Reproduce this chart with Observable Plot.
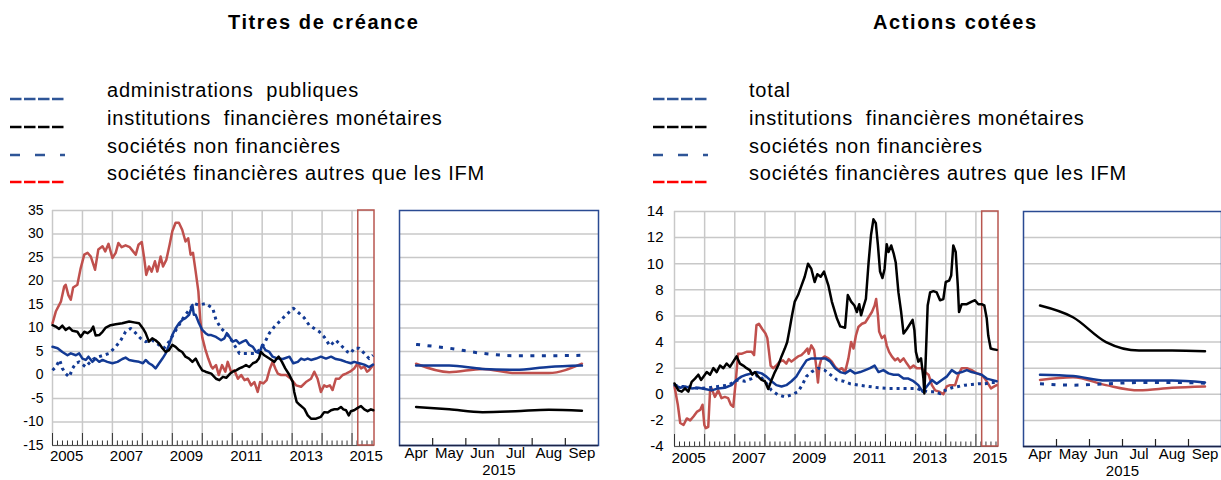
<!DOCTYPE html>
<html><head><meta charset="utf-8">
<script src="https://cdn.jsdelivr.net/npm/d3@7"></script>
<script src="https://cdn.jsdelivr.net/npm/@observablehq/plot@0.6"></script>
<style>
html,body{margin:0;padding:0;background:#fff;}
body{font-family:"Liberation Sans",Arial,sans-serif;color:#000;}
#root{position:relative;width:1221px;height:480px;overflow:hidden;}
.abs{position:absolute;}
.title{font-weight:bold;font-size:20px;line-height:20px;letter-spacing:1.6px;white-space:pre;}
.legtext{font-size:20px;line-height:20px;letter-spacing:0.8px;white-space:pre;}
</style></head>
<body><div id="root"></div>
<script>
// ---------- DATA ----------
const titleDebt = "Titres de créance";
const titleEquity = "Actions cotées";
const legendDebt = ["administrations  publiques", "institutions  financières monétaires", "sociétés non financières", "sociétés financières autres que les IFM"];
const legendEquity = ["total", "institutions  financières monétaires", "sociétés non financières", "sociétés financières autres que les IFM"];

const debtYTicks = [-15, -10, -5, 0, 5, 10, 15, 20, 25, 30, 35];
const equityYTicks = [-4, -2, 0, 2, 4, 6, 8, 10, 12, 14];
const yearLabels = [2005, 2007, 2009, 2011, 2013, 2015];
const zoomYear = 2015;
const zoomMonths = [4, 5, 6, 7, 8, 9];
const zoomMonthLabels = ["Apr", "May", "Jun", "Jul", "Aug", "Sep"];

// Titres de créance — [fractional year, %]
const debtAdmin = [[2005.00,6.0],[2005.17,5.7],[2005.33,4.9],[2005.50,4.2],[2005.61,4.6],[2005.78,4.2],[2005.89,4.6],[2006.00,3.5],[2006.11,3.2],[2006.20,3.9],[2006.33,2.8],[2006.44,3.5],[2006.56,2.8],[2006.67,3.2],[2006.83,2.8],[2007.00,2.5],[2007.17,2.8],[2007.33,3.4],[2007.44,3.7],[2007.56,3.2],[2007.72,3.0],[2007.89,2.8],[2008.02,2.5],[2008.11,3.2],[2008.22,2.5],[2008.33,2.1],[2008.44,1.4],[2008.56,2.5],[2008.67,3.5],[2008.78,4.6],[2008.89,6.4],[2009.00,8.5],[2009.11,9.9],[2009.22,11.0],[2009.33,11.7],[2009.44,12.1],[2009.56,12.8],[2009.67,14.9],[2009.72,12.8],[2009.78,12.8],[2009.89,11.0],[2010.00,9.6],[2010.11,8.9],[2010.20,8.5],[2010.30,8.5],[2010.46,8.1],[2010.63,7.4],[2010.74,7.8],[2010.82,8.9],[2010.91,8.1],[2011.02,7.1],[2011.13,7.4],[2011.24,6.7],[2011.35,7.1],[2011.46,7.4],[2011.57,6.4],[2011.69,6.0],[2011.80,4.9],[2011.91,4.6],[2012.00,6.4],[2012.11,5.3],[2012.24,4.9],[2012.35,3.9],[2012.52,3.5],[2012.69,3.4],[2012.91,3.9],[2013.04,2.5],[2013.19,2.8],[2013.30,3.5],[2013.41,3.2],[2013.52,3.5],[2013.63,3.2],[2013.80,3.5],[2013.96,3.9],[2014.13,3.5],[2014.30,3.9],[2014.46,3.4],[2014.63,3.2],[2014.80,2.8],[2014.96,2.5],[2015.07,2.8],[2015.24,2.5],[2015.41,2.2],[2015.57,1.7],[2015.70,2.2]];
const debtIFM = [[2005.00,10.6],[2005.11,10.3],[2005.22,9.8],[2005.33,10.5],[2005.44,9.6],[2005.56,10.1],[2005.67,9.4],[2005.83,9.2],[2005.94,8.1],[2006.06,9.2],[2006.17,8.9],[2006.28,9.4],[2006.36,10.3],[2006.44,8.4],[2006.56,8.5],[2006.67,9.2],[2006.78,10.1],[2006.94,10.6],[2007.11,10.8],[2007.33,11.0],[2007.56,11.4],[2007.72,11.2],[2007.89,11.0],[2008.02,9.9],[2008.11,8.9],[2008.22,7.1],[2008.33,7.8],[2008.44,7.4],[2008.56,6.7],[2008.67,5.7],[2008.78,4.9],[2008.89,5.3],[2009.00,6.4],[2009.11,6.0],[2009.22,5.3],[2009.33,4.9],[2009.44,3.9],[2009.56,3.5],[2009.67,2.8],[2009.78,3.5],[2009.89,2.1],[2010.00,1.0],[2010.11,0.7],[2010.30,0.3],[2010.46,-0.8],[2010.57,-1.1],[2010.69,-0.4],[2010.80,-0.6],[2010.93,0.3],[2011.02,0.7],[2011.13,1.0],[2011.24,1.4],[2011.35,1.7],[2011.46,2.1],[2011.57,1.7],[2011.69,2.5],[2011.80,2.8],[2011.89,3.5],[2011.96,4.9],[2012.07,4.2],[2012.24,3.5],[2012.41,2.8],[2012.49,3.5],[2012.55,3.9],[2012.66,2.8],[2012.77,1.4],[2012.91,0.0],[2013.02,-1.5],[2013.07,-3.6],[2013.15,-5.7],[2013.26,-6.4],[2013.41,-7.2],[2013.52,-8.6],[2013.63,-9.3],[2013.80,-9.3],[2013.96,-8.9],[2014.07,-7.9],[2014.19,-8.0],[2014.30,-7.5],[2014.41,-7.3],[2014.52,-7.3],[2014.63,-6.8],[2014.71,-7.3],[2014.80,-7.5],[2014.89,-8.6],[2014.96,-7.7],[2015.07,-7.5],[2015.19,-7.0],[2015.30,-6.6],[2015.41,-7.3],[2015.52,-7.7],[2015.63,-7.3],[2015.71,-7.5]];
const debtSNF = [[2005.00,1.0],[2005.11,1.7],[2005.24,3.2],[2005.33,1.4],[2005.44,0.3],[2005.56,-0.4],[2005.67,1.4],[2005.78,2.5],[2005.89,2.8],[2006.11,1.7],[2006.22,2.5],[2006.39,3.5],[2006.56,3.9],[2006.89,4.6],[2007.11,6.0],[2007.28,7.4],[2007.44,9.2],[2007.61,9.9],[2007.78,8.9],[2007.94,7.8],[2008.11,7.1],[2008.33,7.4],[2008.56,6.4],[2008.72,5.7],[2008.89,7.1],[2009.06,8.9],[2009.22,10.6],[2009.39,12.4],[2009.56,13.8],[2009.72,15.2],[2009.89,14.9],[2010.11,15.2],[2010.35,14.2],[2010.46,11.7],[2010.63,9.9],[2010.80,8.9],[2010.91,8.1],[2011.07,6.4],[2011.24,4.6],[2011.41,4.6],[2011.57,4.6],[2011.74,4.6],[2011.91,5.3],[2012.07,6.7],[2012.24,8.9],[2012.41,10.3],[2012.63,11.7],[2012.80,12.8],[2013.04,14.2],[2013.24,13.1],[2013.41,12.1],[2013.57,10.6],[2013.74,9.9],[2013.91,9.2],[2014.07,8.1],[2014.26,6.2],[2014.46,7.4],[2014.68,6.0],[2014.85,4.9],[2014.96,4.6],[2015.07,5.7],[2015.24,5.7],[2015.41,4.6],[2015.57,3.5],[2015.70,4.2]];
const debtSFAutres = [[2005.00,11.0],[2005.11,13.5],[2005.28,15.6],[2005.39,18.8],[2005.44,19.2],[2005.53,17.0],[2005.61,16.0],[2005.69,18.6],[2005.83,19.2],[2005.94,22.7],[2006.06,25.6],[2006.17,26.0],[2006.28,25.2],[2006.42,22.4],[2006.53,26.7],[2006.67,27.4],[2006.76,26.3],[2006.87,27.9],[2007.00,24.9],[2007.11,26.0],[2007.20,28.1],[2007.31,27.2],[2007.44,27.6],[2007.58,27.2],[2007.69,26.3],[2007.78,25.6],[2007.87,27.7],[2007.98,28.3],[2008.06,24.9],[2008.13,21.3],[2008.22,23.1],[2008.31,22.0],[2008.42,24.2],[2008.50,22.0],[2008.61,25.2],[2008.69,23.1],[2008.80,24.5],[2008.91,27.7],[2009.00,30.6],[2009.11,32.4],[2009.22,32.4],[2009.33,30.9],[2009.44,28.4],[2009.53,29.1],[2009.61,25.6],[2009.69,26.0],[2009.78,22.0],[2009.87,17.8],[2009.93,12.0],[2010.00,8.0],[2010.10,5.5],[2010.20,3.5],[2010.30,1.8],[2010.35,1.4],[2010.46,2.1],[2010.55,0.0],[2010.66,2.1],[2010.77,0.7],[2010.85,2.8],[2010.96,0.7],[2011.07,1.0],[2011.19,-0.8],[2011.30,0.0],[2011.41,-1.1],[2011.52,-0.8],[2011.63,-2.2],[2011.74,-1.5],[2011.85,-3.6],[2011.93,-1.5],[2012.04,-1.8],[2012.15,-1.1],[2012.26,1.4],[2012.35,2.8],[2012.44,1.4],[2012.52,0.3],[2012.63,0.0],[2012.80,0.0],[2012.96,-0.8],[2013.13,-2.2],[2013.30,-2.5],[2013.46,-1.5],[2013.63,-0.8],[2013.74,0.7],[2013.85,-0.8],[2013.96,-3.6],[2014.07,-2.2],[2014.15,-2.5],[2014.26,-2.2],[2014.35,-3.2],[2014.46,-0.8],[2014.57,-0.8],[2014.69,0.0],[2014.80,0.3],[2014.93,0.7],[2015.07,1.4],[2015.19,2.5],[2015.30,1.4],[2015.41,1.8],[2015.50,0.7],[2015.57,1.0],[2015.70,2.1]];

// Actions cotées — [fractional year, %]
const eqTotal = [[2005.00,0.7],[2005.19,0.5],[2005.35,0.6],[2005.57,0.45],[2005.79,0.5],[2006.01,0.4],[2006.23,0.3],[2006.45,0.45],[2006.67,0.5],[2006.89,0.7],[2007.06,1.1],[2007.22,1.35],[2007.39,1.5],[2007.56,1.6],[2007.72,1.7],[2007.89,1.6],[2008.05,1.35],[2008.22,1.0],[2008.38,0.7],[2008.55,0.6],[2008.71,0.7],[2008.88,1.0],[2009.04,1.35],[2009.21,2.0],[2009.38,2.6],[2009.54,2.75],[2009.76,2.75],[2010.00,2.75],[2010.17,2.5],[2010.33,2.0],[2010.50,1.7],[2010.66,1.6],[2010.83,1.85],[2010.99,1.6],[2011.16,1.7],[2011.33,1.85],[2011.49,2.0],[2011.64,2.2],[2011.77,1.7],[2011.93,1.85],[2012.10,1.6],[2012.27,1.5],[2012.43,1.5],[2012.60,1.2],[2012.76,1.2],[2012.93,1.0],[2013.09,0.7],[2013.23,0.2],[2013.37,0.6],[2013.54,1.1],[2013.70,0.8],[2013.87,1.1],[2014.03,1.35],[2014.20,1.85],[2014.36,1.6],[2014.53,1.7],[2014.70,1.85],[2014.86,1.7],[2015.03,1.6],[2015.19,1.5],[2015.36,1.2],[2015.52,1.1],[2015.69,1.0]];
const eqIFM = [[2005.00,0.83],[2005.13,0.3],[2005.24,0.2],[2005.35,0.45],[2005.46,0.2],[2005.57,0.95],[2005.68,1.2],[2005.79,1.5],[2005.88,1.1],[2005.96,1.35],[2006.07,1.7],[2006.18,1.5],[2006.29,2.0],[2006.40,1.7],[2006.51,2.2],[2006.62,2.0],[2006.73,2.35],[2006.84,2.1],[2006.95,2.5],[2007.06,2.9],[2007.17,2.35],[2007.28,2.2],[2007.39,2.0],[2007.50,1.85],[2007.58,1.5],[2007.67,1.7],[2007.78,1.35],[2007.89,1.1],[2008.00,1.0],[2008.11,0.4],[2008.22,1.1],[2008.33,1.7],[2008.44,2.2],[2008.55,2.9],[2008.66,3.5],[2008.74,4.0],[2008.82,5.0],[2008.90,6.05],[2008.99,7.1],[2009.10,7.6],[2009.21,8.3],[2009.32,9.0],[2009.43,10.0],[2009.54,9.6],[2009.65,8.6],[2009.74,9.2],[2009.85,9.0],[2009.96,9.4],[2010.00,9.1],[2010.11,8.3],[2010.22,7.1],[2010.39,5.8],[2010.50,5.2],[2010.66,5.1],[2010.75,7.6],[2010.86,7.1],[2010.97,6.8],[2011.05,6.3],[2011.13,6.9],[2011.19,6.05],[2011.27,6.7],[2011.35,7.3],[2011.44,10.1],[2011.52,12.2],[2011.60,13.4],[2011.68,13.1],[2011.75,11.4],[2011.82,9.4],[2011.90,8.9],[2011.97,9.6],[2012.04,11.5],[2012.10,10.9],[2012.19,11.4],[2012.27,10.8],[2012.34,10.1],[2012.43,7.8],[2012.52,6.3],[2012.60,4.65],[2012.71,5.0],[2012.82,5.4],[2012.90,5.7],[2012.96,4.9],[2013.01,3.25],[2013.09,2.5],[2013.18,2.75],[2013.26,1.2],[2013.29,0.06],[2013.34,3.0],[2013.40,6.8],[2013.48,7.8],[2013.59,7.9],[2013.70,7.8],[2013.81,7.2],[2013.92,7.3],[2014.00,8.6],[2014.11,8.7],[2014.18,9.1],[2014.25,11.4],[2014.33,10.9],[2014.40,8.3],[2014.44,6.3],[2014.53,6.9],[2014.70,6.9],[2014.86,7.1],[2014.97,7.2],[2015.08,6.9],[2015.19,6.9],[2015.28,6.8],[2015.36,5.8],[2015.41,4.5],[2015.49,3.5],[2015.58,3.45],[2015.69,3.4]];
const eqSNF = [[2005.00,0.7],[2005.24,0.6],[2005.46,0.6],[2005.79,0.45],[2006.12,0.5],[2006.45,0.6],[2006.78,0.7],[2007.11,1.1],[2007.33,1.0],[2007.56,1.2],[2007.78,1.5],[2008.00,1.0],[2008.22,0.3],[2008.44,-0.05],[2008.66,-0.2],[2008.88,-0.05],[2009.10,0.2],[2009.26,0.8],[2009.37,1.35],[2009.54,1.7],[2009.76,2.0],[2009.98,1.85],[2010.17,1.5],[2010.39,1.1],[2010.61,1.0],[2010.83,0.8],[2011.10,0.7],[2011.44,0.6],[2011.77,0.5],[2012.10,0.45],[2012.43,0.45],[2012.76,0.45],[2013.04,0.45],[2013.20,0.3],[2013.43,0.2],[2013.65,0.2],[2013.81,0.05],[2013.98,0.3],[2014.20,0.5],[2014.42,0.6],[2014.64,0.7],[2014.86,0.75],[2015.08,0.8],[2015.30,0.8],[2015.52,0.9],[2015.69,0.9]];
const eqSFAutres = [[2005.00,0.6],[2005.11,-0.8],[2005.19,-2.2],[2005.30,-2.35],[2005.41,-1.85],[2005.52,-2.0],[2005.63,-1.7],[2005.74,-1.35],[2005.85,-1.2],[2005.93,-0.8],[2005.99,-2.35],[2006.04,-2.6],[2006.12,-2.5],[2006.18,0.3],[2006.23,0.45],[2006.34,-0.2],[2006.45,0.3],[2006.56,-0.3],[2006.67,-0.2],[2006.78,-0.3],[2006.87,-0.8],[2006.95,-0.95],[2007.03,0.95],[2007.11,3.1],[2007.22,3.1],[2007.39,3.25],[2007.56,3.25],[2007.64,3.0],[2007.72,5.3],[2007.80,5.4],[2007.91,5.0],[2008.02,4.65],[2008.08,4.3],[2008.19,2.2],[2008.27,2.0],[2008.38,2.2],[2008.49,2.5],[2008.60,2.6],[2008.71,2.35],[2008.79,2.7],[2008.88,2.5],[2008.99,2.7],[2009.10,2.9],[2009.21,3.0],[2009.32,3.25],[2009.41,3.5],[2009.45,3.1],[2009.54,3.75],[2009.63,3.4],[2009.70,2.2],[2009.76,0.9],[2009.81,2.2],[2009.87,2.7],[2009.98,2.9],[2010.11,2.75],[2010.22,2.5],[2010.33,2.1],[2010.44,1.85],[2010.55,2.0],[2010.66,1.7],[2010.77,2.75],[2010.86,4.0],[2010.94,3.5],[2011.02,4.5],[2011.10,5.15],[2011.22,5.4],[2011.33,5.5],[2011.44,5.9],[2011.55,6.3],[2011.64,6.8],[2011.69,7.3],[2011.75,6.05],[2011.79,4.8],[2011.88,4.3],[2011.97,4.5],[2012.04,3.75],[2012.12,3.25],[2012.21,2.9],[2012.32,2.6],[2012.41,2.75],[2012.49,2.5],[2012.60,2.75],[2012.71,2.35],[2012.82,2.0],[2012.93,2.2],[2013.04,2.0],[2013.20,2.0],[2013.31,1.7],[2013.43,1.5],[2013.54,0.7],[2013.65,0.3],[2013.78,0.2],[2013.92,0.0],[2014.03,0.6],[2014.14,0.7],[2014.31,0.7],[2014.42,1.5],[2014.53,2.0],[2014.70,2.0],[2014.86,1.85],[2015.03,1.6],[2015.19,1.5],[2015.30,1.2],[2015.41,0.8],[2015.50,0.45],[2015.61,0.6],[2015.69,0.7]];

// Zoom panels, Apr–Sep 2015
const debtZoomAdmin = [2.0, 2.0, 1.3, 1.1, 1.7, 2.0];
const debtZoomIFM = [-6.8, -7.3, -7.9, -7.7, -7.4, -7.6];
const debtZoomSNF = [6.5, 5.7, 4.6, 4.1, 4.1, 4.2];
const debtZoomSFAutres = [2.4, 0.6, 1.3, 0.4, 0.4, 2.4];
const eqZoomTotal = [1.5, 1.4, 1.05, 1.05, 1.05, 0.9];
const eqZoomIFM = [6.8, 5.9, 4.0, 3.35, 3.35, 3.3];
const eqZoomSNF = [0.8, 0.7, 0.8, 0.9, 0.9, 0.85];
const eqZoomSFAutres = [1.1, 1.3, 0.7, 0.3, 0.5, 0.6];

// ---------- STYLE ----------
const BLUE = "#133a94", RED = "#c0504d", BLACK = "#000000";
const GRID = "#c8c8c8", BOX = "#b8564f", NAVY = "#2a4a92";
const FONT = "'Liberation Sans', Arial, sans-serif";
const seriesStyles = [
  {stroke: BLUE, strokeWidth: 2.5},
  {stroke: BLACK, strokeWidth: 2.5},
  {stroke: BLUE, strokeWidth: 3, dash: "3,4", zoomDash: "4,7.5"},
  {stroke: RED, strokeWidth: 2.5}
];
const legendSwatches = [
  {color: "#2e5597", dash: "11.5,2.5"},
  {color: "#000000", dash: "11.5,2.5"},
  {color: "#2e5597", dash: "10,15"},
  {color: "#ff0000", dash: "11.5,2.5"}
];
const drawOrder = [3, 2, 0, 1];

const root = document.getElementById("root");
function place(node, left, top) {
  const d = document.createElement("div");
  d.className = "abs"; d.style.left = left + "px"; d.style.top = top + "px";
  d.appendChild(node); root.appendChild(d); return d;
}

function lineOptions(s, dash, extra) {
  return Object.assign({stroke: s.stroke, strokeWidth: s.strokeWidth, strokeLinejoin: "round",
    strokeLinecap: dash ? "butt" : "round", strokeDasharray: dash}, extra);
}

function mainChart(series, cfg) {
  const {yDomain, yTicks, width, height, mL, mR, mT, mB, xEnd, yFont, xFont, yPad} = cfg;
  const frameH = height - mT - mB;
  const years = d3.range(2005, Math.floor(xEnd) + 1);
  const minor = [];
  for (const y of years) for (let k = 1; k < 6; k++) { const t = y + k / 6; if (t < xEnd) minor.push(t); }
  const boxX1 = zoomYear + (zoomMonths[0] - 1.5) / 12;
  const labelPos = yearLabels.map(y => (y + 0.5 > xEnd - 0.2 ? y + 0.3 : y + 0.47));
  const lines = drawOrder.map(i => {
    const s = seriesStyles[i];
    return Plot.line(series[i].map(([t, v]) => ({t, v})), lineOptions(s, s.dash, {x: "t", y: "v"}));
  });
  return Plot.plot({
    width, height, marginLeft: mL, marginRight: mR, marginTop: mT, marginBottom: mB,
    x: {domain: [2005, xEnd], label: null}, y: {domain: yDomain, label: null},
    style: {fontFamily: FONT, fontSize: "14px", color: "#000", background: "transparent", overflow: "visible"},
    marks: [
      Plot.ruleY(yTicks, {stroke: GRID, strokeWidth: 1.5}),
      Plot.ruleX(years, {stroke: GRID, strokeWidth: 1.5}),
      Plot.ruleY([yDomain[0]], {stroke: "#555", strokeWidth: 1}),
      Plot.ruleX(minor, {stroke: "#333", strokeWidth: 1, insetTop: frameH - 4.5}),
      Plot.ruleX(years, {stroke: "#333", strokeWidth: 1, insetTop: frameH - 12}),
      Plot.rect([0], {x1: () => boxX1, x2: () => xEnd, y1: () => yDomain[0], y2: () => yDomain[1], fill: "none", stroke: BOX, strokeWidth: 1.5}),
      ...lines,
      Plot.axisY({ticks: yTicks, tickSize: 0, tickPadding: yPad, tickFormat: d => String(d), fontSize: yFont}),
      Plot.axisX({ticks: labelPos, tickSize: 0, tickPadding: 5, tickFormat: d => String(Math.floor(d)), fontSize: xFont})
    ]
  });
}

function zoomChart(values, cfg) {
  const {yDomain, yTicks, width, height, mL, mR, mT, mB} = cfg;
  const frameH = height - mT - mB;
  const lines = drawOrder.map(i => {
    const s = seriesStyles[i];
    return Plot.line(zoomMonths.map((m, j) => ({m, v: values[i][j]})), lineOptions(s, s.zoomDash, {x: "m", y: "v", curve: "monotone-x"}));
  });
  return Plot.plot({
    width, height, marginLeft: mL, marginRight: mR, marginTop: mT, marginBottom: mB,
    x: {domain: [zoomMonths[0] - 0.5, zoomMonths[zoomMonths.length - 1] + 0.5], label: null, axis: null},
    y: {domain: yDomain, label: null, axis: null},
    style: {fontFamily: FONT, fontSize: "15px", color: "#000", background: "transparent", overflow: "visible"},
    marks: [
      Plot.ruleY(yTicks.slice(1, -1), {stroke: GRID, strokeWidth: 1.5}),
      Plot.frame({stroke: NAVY, strokeWidth: 1.5}),
      Plot.ruleY([yDomain[0]], {stroke: "#1b2448", strokeWidth: 1.5}),
      Plot.ruleX(zoomMonths.slice(0, -1).map(m => m + 0.5), {stroke: "#222", strokeWidth: 1.2, insetTop: frameH - 7}),
      ...lines,
      Plot.axisX({ticks: zoomMonths, tickSize: 0, tickPadding: 2, tickFormat: d => zoomMonthLabels[zoomMonths.indexOf(d)], fontSize: 15}),
      Plot.text([String(zoomYear)], {text: d => d, frameAnchor: "bottom", dy: 29.5, fontSize: 15})
    ]
  });
}

function legend(items, swX, swW, textX, rows) {
  items.forEach((label, i) => {
    const sw = legendSwatches[i];
    const svg = d3.create("svg").attr("width", swW).attr("height", 6);
    svg.append("line").attr("x1", 0).attr("x2", swW).attr("y1", 3).attr("y2", 3)
      .attr("stroke", sw.color).attr("stroke-width", 2.7).attr("stroke-dasharray", sw.dash);
    place(svg.node(), swX, rows[i] - 3);
    const t = document.createElement("span");
    t.className = "legtext"; t.textContent = label;
    place(t, textX, rows[i] + 5.5 - 16.9);
  });
}

function title(text, x) {
  const t = document.createElement("span");
  t.className = "title"; t.textContent = text;
  place(t, x, 29 - 16.9);
}

const legendRows = [91, 119, 147, 174];
title(titleDebt, 228);
title(titleEquity, 873);
legend(legendDebt, 10, 55, 107, legendRows);
legend(legendEquity, 653, 55, 749, legendRows);

const debtSeries = [debtAdmin, debtIFM, debtSNF, debtSFAutres];
const eqSeries = [eqTotal, eqIFM, eqSNF, eqSFAutres];

place(mainChart(debtSeries, {yDomain: [-15, 35], yTicks: debtYTicks, width: 385, height: 280, mL: 52, mR: 11, mT: 10, mB: 35, xEnd: 2015.75, yFont: 14, xFont: 15, yPad: 9}), 0, 200);
place(zoomChart([debtZoomAdmin, debtZoomIFM, debtZoomSNF, debtZoomSFAutres], {yDomain: [-15, 35], yTicks: debtYTicks, width: 230, height: 280, mL: 19, mR: 12, mT: 10, mB: 35}), 380, 200);
place(mainChart(eqSeries, {yDomain: [-4, 14], yTicks: equityYTicks, width: 400, height: 280, mL: 64, mR: 12, mT: 11, mB: 34, xEnd: 2015.75, yFont: 15, xFont: 15.5, yPad: 11}), 610, 200);
place(zoomChart([eqZoomTotal, eqZoomIFM, eqZoomSNF, eqZoomSFAutres], {yDomain: [-4, 14], yTicks: equityYTicks, width: 211, height: 280, mL: 13, mR: 0, mT: 11, mB: 34}), 1010, 200);
</script>
</body></html>
